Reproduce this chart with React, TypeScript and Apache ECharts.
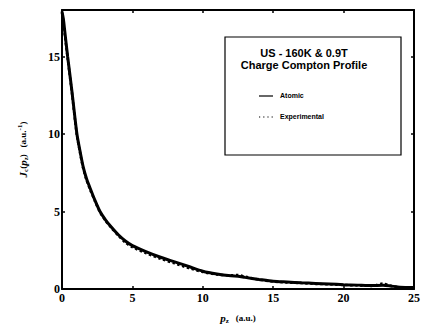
import React, { useEffect, useRef } from "react";
import * as echarts from "echarts";

const pz = [0, 0.1, 0.2, 0.4, 0.7, 1.06, 1.3, 1.5, 1.75, 2, 2.35, 2.7, 3.1, 3.5, 4, 4.5, 5, 6, 7, 8, 9, 10, 11, 12, 12.5, 13, 14, 15, 16, 17, 18, 19, 20, 21, 22, 22.8, 23.3, 24, 25];
const atomic = [17.9, 17.4, 16.6, 15, 12.8, 10, 8.8, 7.9, 7.1, 6.5, 5.7, 5.0, 4.45, 4.0, 3.5, 3.1, 2.8, 2.4, 2.05, 1.75, 1.45, 1.15, 0.97, 0.85, 0.82, 0.75, 0.62, 0.5, 0.45, 0.4, 0.36, 0.32, 0.28, 0.25, 0.22, 0.24, 0.2, 0.12, 0.1];
const experimental = [17.8, 17.2, 16.4, 14.9, 12.7, 9.9, 8.7, 7.8, 7.0, 6.4, 5.65, 4.95, 4.4, 3.95, 3.45, 3.0, 2.7, 2.3, 1.95, 1.65, 1.35, 1.1, 0.93, 0.88, 0.9, 0.8, 0.6, 0.48, 0.42, 0.38, 0.33, 0.3, 0.26, 0.23, 0.2, 0.35, 0.22, 0.1, 0.08];
const xTicks = [0, 5, 10, 15, 20, 25];
const yTicks = [0, 5, 10, 15];

export default function App() {
  const ref = useRef<HTMLDivElement>(null);
  useEffect(() => {
    const chart = echarts.init(ref.current!, undefined, { renderer: "svg" });
    const serif = "Liberation Serif";
    const sans = "Liberation Sans";
    const axisCommon = {
      type: "value" as const,
      axisLine: { show: true, onZero: false, lineStyle: { color: "#000", width: 2 } },
      axisTick: { show: true, inside: true, length: 3, lineStyle: { color: "#000", width: 1.5 } },
      splitLine: { show: false },
    };
    chart.setOption({
      animation: false,
      backgroundColor: "#fff",
      grid: { left: 62, right: 4, top: 10, bottom: 39 },
      xAxis: [
        {
          ...axisCommon,
          min: 0,
          max: 25,
          interval: 5,
          position: "bottom",
          axisLabel: { color: "#000", fontFamily: serif, fontWeight: "bold", fontSize: 12, margin: 3, formatter: (v: number) => (xTicks.includes(v) ? String(v) : "") },
          name: "{pi|p}{sub|z}{n|   (a.u.)}",
          nameLocation: "middle",
          nameGap: 22,
          nameTextStyle: {
            rich: {
              pi: { fontFamily: serif, fontStyle: "italic", fontWeight: "bold", fontSize: 11, color: "#000" },
              sub: { fontFamily: serif, fontWeight: "bold", fontSize: 7, color: "#000", padding: [6, 0, 0, 0] },
              n: { fontFamily: serif, fontWeight: "bold", fontSize: 9, color: "#000" },
            },
          },
        },
        {
          ...axisCommon,
          min: 0,
          max: 25,
          interval: 5,
          position: "top",
          axisLabel: { show: false },
        },
      ],
      yAxis: [
        {
          ...axisCommon,
          min: 0,
          max: 18,
          interval: 5,
          position: "left",
          axisLabel: { color: "#000", fontFamily: serif, fontWeight: "bold", fontSize: 12, margin: 2, formatter: (v: number) => (yTicks.includes(v) ? String(v) : "") },
          name: "{pi|J}{sub|c}{n|(}{pi|p}{sub|z}{n|)   (a.u.}{sup|-1}{n|)}",
          nameLocation: "middle",
          nameRotate: 90,
          nameGap: 33,
          nameTextStyle: {
            rich: {
              pi: { fontFamily: serif, fontStyle: "italic", fontWeight: "bold", fontSize: 11, color: "#000" },
              sub: { fontFamily: serif, fontWeight: "bold", fontSize: 7, color: "#000", padding: [6, 0, 0, 0] },
              sup: { fontFamily: serif, fontWeight: "bold", fontSize: 7, color: "#000", padding: [0, 0, 6, 0] },
              n: { fontFamily: serif, fontWeight: "bold", fontSize: 9, color: "#000" },
            },
          },
        },
        {
          ...axisCommon,
          min: 0,
          max: 18,
          interval: 5,
          position: "right",
          axisLabel: { show: false },
        },
      ],
      series: [
        {
          name: "Atomic",
          type: "line",
          data: pz.map((x, i) => [x, atomic[i]]),
          showSymbol: false,
          smooth: 0.25,
          lineStyle: { color: "#000", width: 3 },
        },
        {
          name: "Experimental",
          type: "line",
          data: pz.map((x, i) => [x, experimental[i]]),
          showSymbol: false,
          smooth: 0.25,
          lineStyle: { color: "#000", width: 2.5, type: "dotted" },
        },
      ],
      graphic: [
        { type: "rect", shape: { x: 225, y: 37, width: 176, height: 118 }, style: { fill: "#fff", stroke: "#000", lineWidth: 1.2 } },
        { type: "text", x: 304, y: 53, style: { text: "US - 160K & 0.9T", font: `bold 11px ${sans}`, fill: "#000", align: "center", verticalAlign: "middle" } },
        { type: "text", x: 304, y: 65, style: { text: "Charge Compton Profile", font: `bold 11px ${sans}`, fill: "#000", align: "center", verticalAlign: "middle" } },
        { type: "line", shape: { x1: 259, y1: 96, x2: 273, y2: 96 }, style: { stroke: "#000", lineWidth: 1.2 } },
        { type: "text", x: 280, y: 95, style: { text: "Atomic", font: `bold 7px ${sans}`, fill: "#000", verticalAlign: "middle" } },
        { type: "line", shape: { x1: 259, y1: 117, x2: 273, y2: 117 }, style: { stroke: "#000", lineWidth: 1.2, lineDash: [1.2, 3] } },
        { type: "text", x: 280, y: 116, style: { text: "Experimental", font: `bold 7px ${sans}`, fill: "#000", verticalAlign: "middle" } },
      ],
    });
    return () => chart.dispose();
  }, []);
  return <div ref={ref} style={{ width: 423, height: 329, position: "absolute", left: 0, top: 0 }} />;
}
